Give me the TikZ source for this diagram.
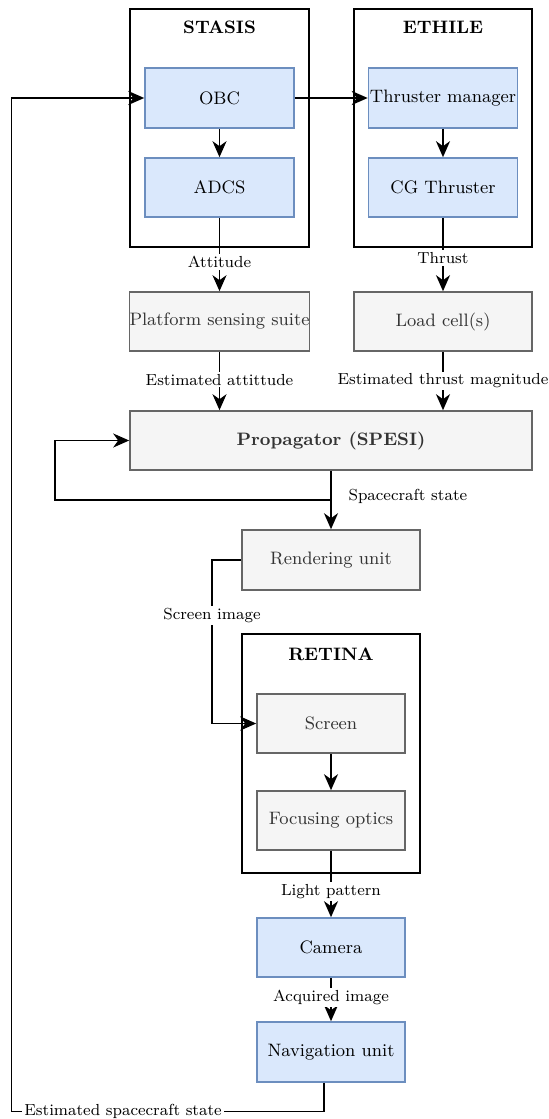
\documentclass[tikz,border=0pt]{standalone}
\usetikzlibrary{arrows.meta}
\definecolor{bfill}{HTML}{DAE8FC}
\definecolor{bdraw}{HTML}{6C8EBF}
\definecolor{gfill}{HTML}{F5F5F5}
\definecolor{gdraw}{HTML}{666666}
\definecolor{gtext}{HTML}{333333}
\begin{document}
\begin{tikzpicture}[x=0.5pt,y=-0.5pt,
 nodefont/.style={font=\fontsize{9}{11}\selectfont},
 bluebox/.style={draw=bdraw, fill=bfill, line width=0.8pt, inner sep=0pt, minimum width=74.5pt, minimum height=30pt, nodefont},
 graybox/.style={draw=gdraw, fill=gfill, text=gtext, line width=0.8pt, inner sep=0pt, minimum width=74.5pt, minimum height=30pt, nodefont},
 container/.style={draw=black, fill=white, line width=0.9pt, inner sep=0pt},
 titletext/.style={font=\fontsize{9}{11}\selectfont\bfseries},
 conn/.style={draw=black, line width=0.9pt, -{Stealth[length=8pt,width=7pt,inset=2.5pt]}},
 lbl/.style={font=\fontsize{8}{9.6}\selectfont, fill=white, inner sep=1pt},
]
\useasboundingbox (0,0) rectangle (548,1119);
% containers
\node[container, minimum width=89.5pt, minimum height=119pt] (stasis) at (219.5,128) {};
\node[titletext] (stasisT) at (219.5,27) {STASIS};
\node[container, minimum width=89pt, minimum height=119pt] (ethile) at (443,128) {};
\node[titletext] (ethileT) at (443,27) {ETHILE};
\node[container, minimum width=89pt, minimum height=119.5pt] (retina) at (331,753.5) {};
\node[titletext] (retinaT) at (331,654) {RETINA};
% boxes
\node[bluebox] (obc) at (219.5,98) {OBC};
\node[bluebox, minimum height=29.5pt] (adcs) at (219.5,187.5) {ADCS};
\node[bluebox] (tm) at (443,98) {Thruster manager};
\node[bluebox, minimum height=29.5pt] (cg) at (443,187.5) {CG Thruster};
\node[graybox, minimum width=89.5pt, minimum height=29.5pt] (pss) at (219.5,321.5) {Platform sensing suite};
\node[graybox, minimum width=89pt, minimum height=29.5pt] (lc) at (443,321.5) {Load cell(s)};
\node[graybox, minimum width=201pt, minimum height=29.5pt, font=\fontsize{9}{11}\selectfont\bfseries] (prop) at (331,440.5) {Propagator (SPESI)};
\node[graybox, minimum width=89pt] (rend) at (331,560) {Rendering unit};
\node[graybox, minimum width=74pt, minimum height=29.5pt] (screen) at (331,723.5) {Screen};
\node[graybox, minimum width=74pt, minimum height=29.5pt] (fo) at (331,820.5) {Focusing optics};
\node[bluebox, minimum width=74pt, minimum height=29.5pt] (cam) at (331,947.5) {Camera};
\node[bluebox, minimum width=74pt] (nav) at (331,1052) {Navigation unit};
% coordinates
\coordinate (br) at (331,500);
\coordinate (lp1) at (55,500);
\coordinate (lp2) at (55,440.5);
\coordinate (s1) at (212,560);
\coordinate (s2) at (212,723.5);
\coordinate (n1) at (324,1111.5);
\coordinate (n2) at (11.5,1111.5);
\coordinate (n3) at (11.5,98);
% connectors
\draw[conn] (obc) -- (adcs);
\draw[conn] (obc) -- (tm);
\draw[conn] (tm) -- (cg);
\draw[conn] (adcs) -- node[lbl, pos=0.6] {Attitude} (pss);
\draw[conn] (cg) -- node[lbl, pos=0.547] {Thrust} (lc);
\draw[conn] (pss.south) -- node[lbl, pos=0.48] {Estimated attittude} (pss.south |- prop.north);
\draw[conn] (lc.south) -- node[lbl, pos=0.5] {Estimated thrust magnitude} (lc.south |- prop.north);
\draw[conn] (prop) -- node[pos=0.445, anchor=west, xshift=5pt, font=\fontsize{8}{9.6}\selectfont] {Spacecraft state} (rend);
\draw[conn] (br) -- (lp1) -- (lp2) -- (prop.west);
\draw[conn] (rend.west) -- (s1) -- node[lbl, pos=0.34] {Screen image} (s2) -- (screen.west);
\draw[conn] (screen) -- (fo);
\draw[conn] (fo) -- node[lbl, pos=0.61] {Light pattern} (cam);
\draw[conn] (cam) -- node[lbl, pos=0.454] {Acquired image} (nav);
\draw[conn] (nav.south -| n1) -- (n1) -- node[lbl, pos=0.643] {Estimated spacecraft state} (n2) -- (n3) -- (obc.west);
\end{tikzpicture}
\end{document}
